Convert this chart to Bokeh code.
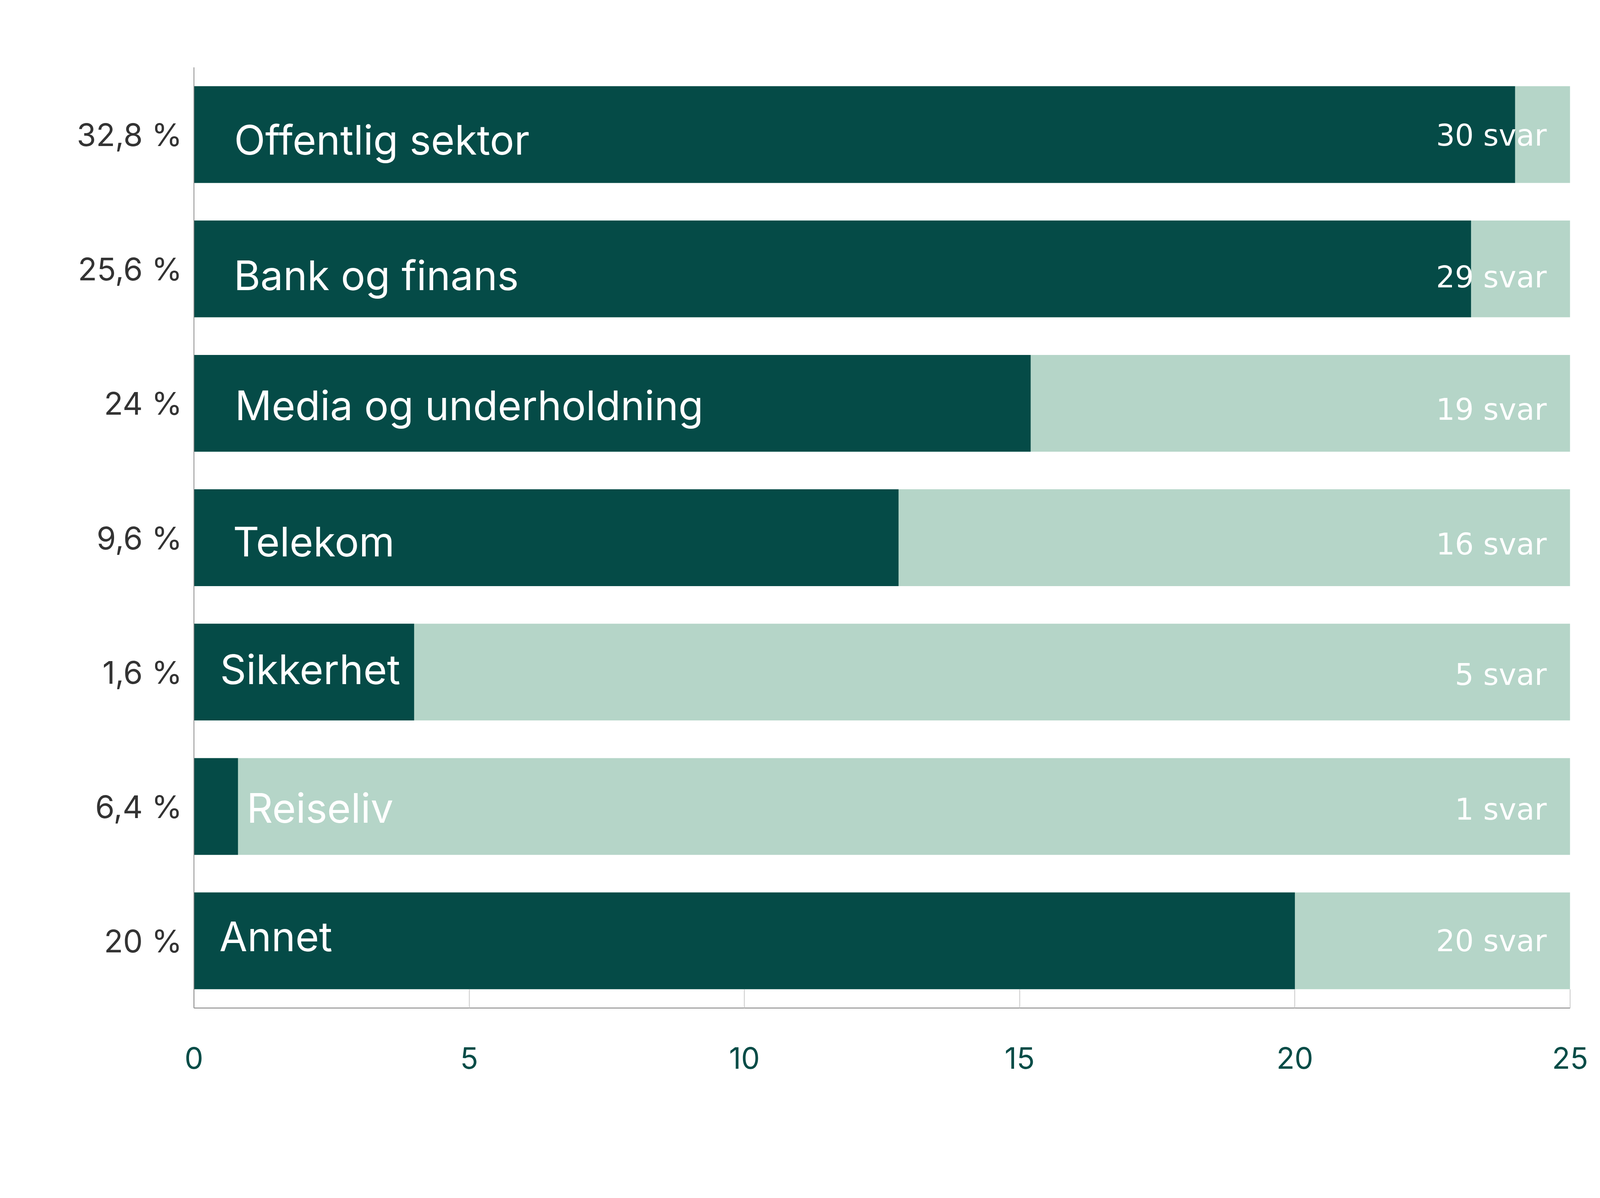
from bokeh.plotting import figure
from bokeh.models import ColumnDataSource, Range1d, FactorRange, FixedTicker, CategoricalAxis
from bokeh.core.properties import value
from bokeh.embed import file_html
from bokeh.resources import INLINE

# ---- data ----
categories = ["Offentlig sektor", "Bank og finans", "Media og underholdning",
              "Telekom", "Sikkerhet", "Reiseliv", "Annet"]
shares = [24, 23.2, 15.2, 12.8, 4, 0.8, 20]
scale_max = [25, 25, 25, 25, 25, 25, 25]
answers = ["30 svar", "29 svar", "19 svar", "16 svar", "5 svar", "1 svar", "20 svar"]
pct_labels = ["32,8 %", "25,6 %", "24 %", "9,6 %", "1,6 %", "6,4 %", "20 %"]
x_ticks = [0, 5, 10, 15, 20, 25]

# ---- style (screen offsets per row, px) ----
cat_dx = [103, 102, 105, 100, 67, 135, 65]
cat_dy = [13, 16, 5, 10, -7, 4, -11]
ans_dy = [2, 21, 16, 16, 6, 7, 0]

DARK = "#054b47"
LIGHT = "#b5d5c8"

src = ColumnDataSource(dict(
    cat=categories, share=shares, top=scale_max, ans=answers,
    zero=[0] * len(categories), cdx=cat_dx, cdy=cat_dy, ady=ans_dy,
))

W, H = 4310, 3050
p = figure(
    width=W, height=H,
    y_range=FactorRange(*reversed(categories)),
    x_range=Range1d(0, 25),
    y_axis_location=None,
    output_backend="svg", toolbar_location=None,
    min_border_left=496, min_border_top=172,
    min_border_right=W - (4027 - 8), min_border_bottom=H - (2589 - 8),
)
p.outline_line_color = None
p.background_fill_color = "white"
p.border_fill_color = "white"
p.xgrid.visible = False
p.ygrid.visible = False

p.hbar(y="cat", left=0, right="top", height=0.72, source=src,
       fill_color=LIGHT, line_color=None)
p.hbar(y="cat", left=0, right="share", height=0.72, source=src,
       fill_color=DARK, line_color=None)

p.text(x="zero", y="cat", text="cat", source=src, x_offset="cdx", y_offset="cdy",
       text_font=value("Inter"), text_font_size="104px", text_color="white",
       text_align="left", text_baseline="alphabetic")

p.text(x="top", y="cat", text="ans", source=src, x_offset=-60, y_offset="ady",
       text_font=value("DejaVu Sans"), text_font_size="76px", text_color="white",
       text_align="right", text_baseline="alphabetic")

# x axis
xa = p.xaxis[0]
xa.ticker = FixedTicker(ticks=x_ticks)
xa.major_tick_in = 48
xa.major_tick_out = 0
xa.major_tick_line_color = "#c8c8c8"
xa.major_tick_line_width = 2
xa.minor_tick_line_color = None
xa.axis_line_color = "#777777"
xa.axis_line_width = 2
xa.major_label_standoff = 100
xa.major_label_text_font = "Inter"
xa.major_label_text_font_size = "76px"
xa.major_label_text_color = "#064c47"

# y axis: percentage labels on a parallel categorical range
p.extra_y_ranges = {"pct": FactorRange(*reversed(pct_labels))}
ya = CategoricalAxis(y_range_name="pct")
ya.major_tick_line_color = None
ya.minor_tick_line_color = None
ya.major_tick_in = 0
ya.major_tick_out = 0
ya.axis_line_color = "#888888"
ya.axis_line_width = 2
ya.major_label_standoff = 30
ya.major_label_text_font = "Inter"
ya.major_label_text_font_size = "80px"
ya.major_label_text_color = "#333333"
p.add_layout(ya, "left")

open("out.html", "w").write(file_html(p, INLINE))
